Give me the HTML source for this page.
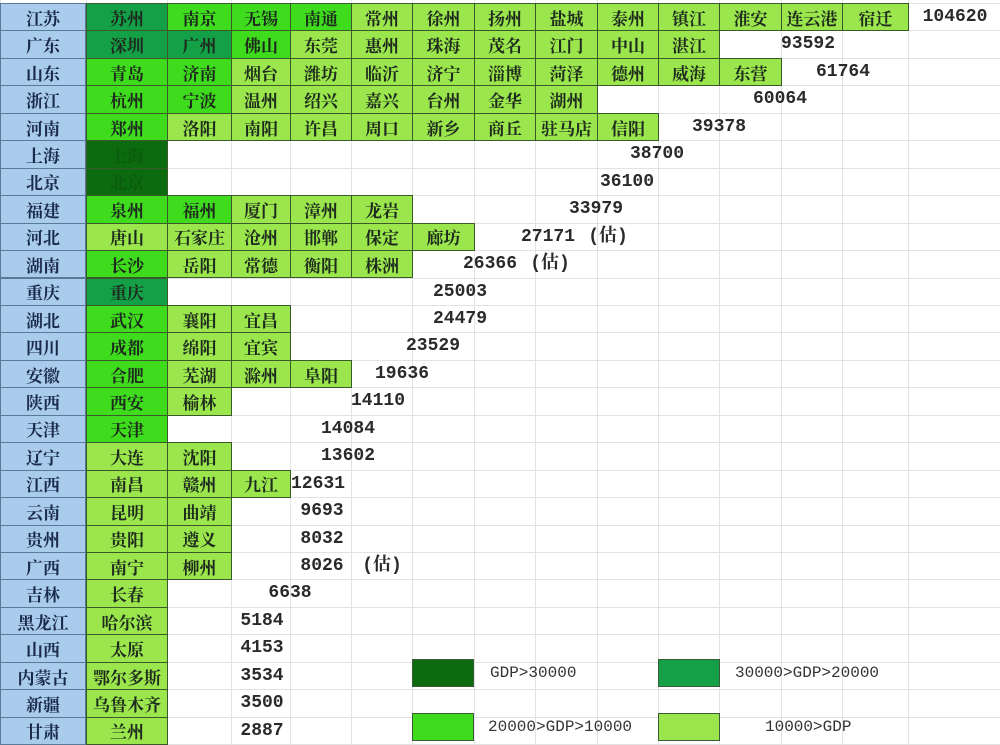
<!DOCTYPE html>
<html><head><meta charset="utf-8">
<style>
body{margin:0;width:1000px;height:744px;overflow:hidden;background:#fff;position:relative;font-family:"Liberation Serif","Noto Serif CJK SC",serif;}
.c{position:absolute;box-sizing:border-box;display:flex;align-items:center;justify-content:center;font-weight:bold;color:#1e2a1e;font-size:17px;font-family:"Liberation Serif","Noto Serif CJK SC",serif;white-space:nowrap;}
.g{position:absolute;background:#e2e2e2;}
.n{position:absolute;font-family:"Liberation Mono","Noto Serif CJK SC",monospace;font-weight:bold;font-size:18px;line-height:22px;color:#2a2a2a;transform:translateX(-50%);white-space:nowrap;}
.lt{position:absolute;font-family:"Liberation Mono",monospace;font-size:16px;color:#333;white-space:nowrap;}
</style></head><body>
<script>
const colEdges=[0,86,167,231,290,351,412,474,535,597,658,719,781,842,908,1000];
const rowTop=3, rowH=27.45;
const provinces=["江苏","广东","山东","浙江","河南","上海","北京","福建","河北","湖南","重庆","湖北","四川","安徽","陕西","天津","辽宁","江西","云南","贵州","广西","吉林","黑龙江","山西","内蒙古","新疆","甘肃"];
const cities=[
"苏州:M,南京:B,无锡:B,南通:B,常州:L,徐州:L,扬州:L,盐城:L,泰州:L,镇江:L,淮安:L,连云港:L,宿迁:L",
"深圳:M,广州:M,佛山:B,东莞:L,惠州:L,珠海:L,茂名:L,江门:L,中山:L,湛江:L",
"青岛:B,济南:B,烟台:L,潍坊:L,临沂:L,济宁:L,淄博:L,菏泽:L,德州:L,威海:L,东营:L",
"杭州:B,宁波:B,温州:L,绍兴:L,嘉兴:L,台州:L,金华:L,湖州:L",
"郑州:B,洛阳:L,南阳:L,许昌:L,周口:L,新乡:L,商丘:L,驻马店:L,信阳:L",
"上海:D","北京:D",
"泉州:B,福州:B,厦门:L,漳州:L,龙岩:L",
"唐山:L,石家庄:L,沧州:L,邯郸:L,保定:L,廊坊:L",
"长沙:B,岳阳:L,常德:L,衡阳:L,株洲:L",
"重庆:M","武汉:B,襄阳:L,宜昌:L","成都:B,绵阳:L,宜宾:L","合肥:B,芜湖:L,滁州:L,阜阳:L",
"西安:B,榆林:L","天津:B","大连:L,沈阳:L","南昌:L,赣州:L,九江:L","昆明:L,曲靖:L","贵阳:L,遵义:L","南宁:L,柳州:L",
"长春:L","哈尔滨:L","太原:L","鄂尔多斯:L","乌鲁木齐:L","兰州:L"];
const gdpValues=[104620,93592,61764,60064,39378,38700,36100,33979,27171,26366,25003,24479,23529,19636,14110,14084,13602,12631,9693,8032,8026,6638,5184,4153,3534,3500,2887];
const estimated=[8,9,20];
const numX=[955,808,843,780,719,657,627,596,548,490,460,460,433,402,378,348,348,318,322,322,322,290,262,262,262,262,262];
const colors={D:"#0b6b0e",M:"#14a047",B:"#3fdc1e",L:"#9ae64c"};
const legend=[["D","GDP>30000"],["M","30000>GDP>20000"],["B","20000>GDP>10000"],["L","10000>GDP"]];
const y=i=>rowTop+i*rowH;
function add(tag,cls,style,txt){const e=document.createElement(tag);e.className=cls;Object.assign(e.style,style);if(txt!==undefined)e.textContent=txt;document.body.appendChild(e);return e;}
for(let i=0;i<colEdges.length;i++){const g=add('div','g',{left:colEdges[i]+'px',top:'0px',width:'1px',height:'744px'});

}
for(let r=0;r<=27;r++){const g=add('div','g',{left:'0px',top:y(r)+'px',width:'1000px',height:'1px'});

}
provinces.forEach((p,r)=>{
 const pc=add('div','c',{left:'0px',top:y(r)+'px',width:'86px',height:(rowH+1)+'px',background:'#a9cbec',border:'1px solid #5a7a9a',color:'#1a2a4a'},p);
 
 
 cities[r].split(',').forEach((s,k)=>{
  const [name,cat]=s.split(':');
  const x0=colEdges[k+1],x1=colEdges[k+2];
  const cc=add('div','c',{left:x0+'px',top:y(r)+'px',width:(x1-x0+1)+'px',height:(rowH+1)+'px',background:colors[cat],border:'1px solid #3a5a2a',color:cat==='D'?'#0b5a0e':'#1e2a1e'},name);
  
  
 });
 const n=add('div','n',{left:numX[r]+'px',top:(y(r)+3)+'px'},String(gdpValues[r]));
 
 
 if(estimated.includes(r)){const e=add('div','n',{left:(numX[r]+60)+'px',top:(y(r)+3)+'px'},'(估)');
  
  }
});
legend.forEach((l,k)=>{
 const bx=k%2===0?412:658, by=k<2?659:713;
 const b=add('div','',{position:'absolute',left:bx+'px',top:by+'px',width:'62px',height:'28px',background:colors[l[0]],border:'1px solid #3a5a3a',boxSizing:'border-box'});
 
 
 const tx=[[490,735],[488,765]][k<2?0:1][k%2];
 const t=add('div','lt',{left:tx+'px',top:(by+5)+'px'},l[1]);
 
 
});
</script>
</body></html>
